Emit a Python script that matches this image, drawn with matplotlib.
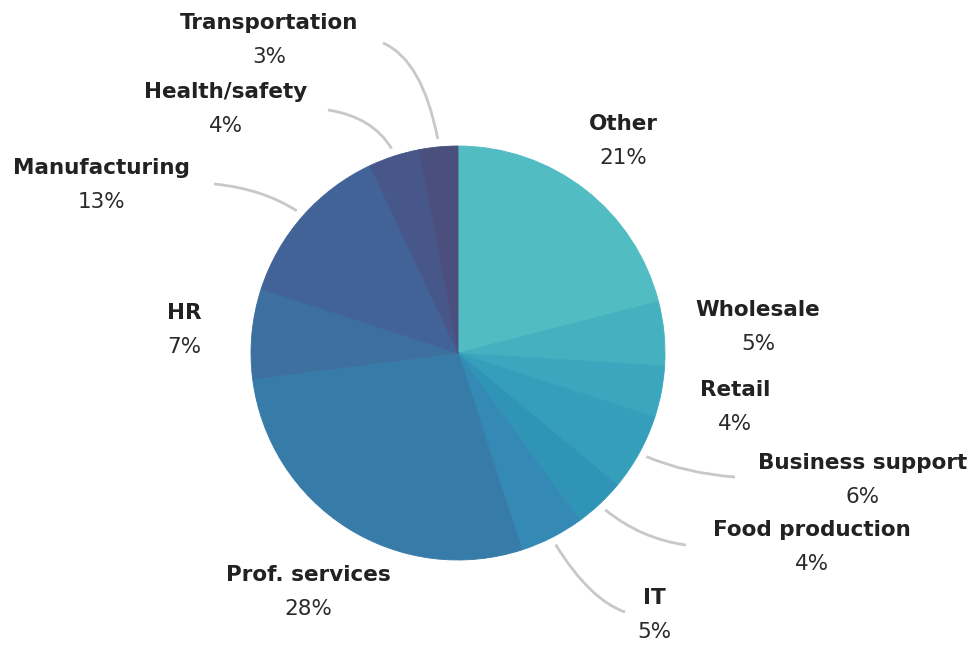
import matplotlib
matplotlib.use('Agg')

import numpy as np
import matplotlib.pyplot as plt
from matplotlib.path import Path
from matplotlib.patches import PathPatch

# dados
setores = ['Other', 'Wholesale', 'Retail', 'Business support', 'Food production', 'IT',
           'Prof. services', 'HR', 'Manufacturing', 'Health/safety', 'Transportation']
percentuais = [21, 5, 4, 6, 4, 5, 28, 7, 13, 4, 3]
cores = ['#52bcc3', '#44b0c0', '#3ba7be', '#359fbb', '#3094b7', '#348ab5',
         '#377ba8', '#3d6f9f', '#426398', '#47578a', '#4b4f7e']

# posicao dos rotulos (centro x, y do nome) em pixels, origem no topo
rotulos_pos = [(623, 124), (758, 310), (735, 390), (863, 463), (812, 530), (654, 598),
               (308, 575), (184, 313), (101, 168), (226, 92), (269, 23)]
# pontos finais dos conectores (None = sem conector)
conectores = [None, None, None, (735, 477), (686, 545), (625, 612),
              None, None, (214, 184), (328, 110), (383, 43)]

W, H = 980, 645
cx, cy, r = 458, 353, 207

fig = plt.figure(figsize=(W / 100, H / 100), dpi=100)
ax = fig.add_axes([0, 0, 1, 1])

wedges, _ = ax.pie(percentuais, colors=cores, startangle=-90, counterclock=True,
                   center=(cx, cy), radius=r, wedgeprops=dict(linewidth=0.6))
for w in wedges:
    w.set_edgecolor(w.get_facecolor())

ax.set_xlim(0, W)
ax.set_ylim(H, 0)
ax.set_aspect('equal')
ax.axis('off')

for i, w in enumerate(wedges):
    x, y = rotulos_pos[i]
    ax.text(x, y, setores[i], ha='center', va='center', fontsize=15.5,
            fontweight='bold', color='#222222')
    ax.text(x, y + 34, f'{percentuais[i]}%', ha='center', va='center', fontsize=15.5,
            color='#2a2a2a')

    fim = conectores[i]
    if fim is None:
        continue
    ang = np.deg2rad((w.theta1 + w.theta2) / 2)
    dx, dy = np.cos(ang), np.sin(ang)
    p0 = np.array([cx + (r + 8) * dx, cy + (r + 8) * dy])
    fim = np.array(fim)
    t = (fim[1] - p0[1]) / dy
    ctrl = np.array([p0[0] + t * dx, fim[1]])
    # suaviza a curva puxando o controle para o meio
    ctrl = 0.65 * ctrl + 0.35 * (p0 + fim) / 2
    path = Path([p0, ctrl, fim], [Path.MOVETO, Path.CURVE3, Path.CURVE3])
    ax.add_patch(PathPatch(path, facecolor='none', edgecolor='#c8c8c8', linewidth=2))

fig.savefig('out.png', dpi=100)
